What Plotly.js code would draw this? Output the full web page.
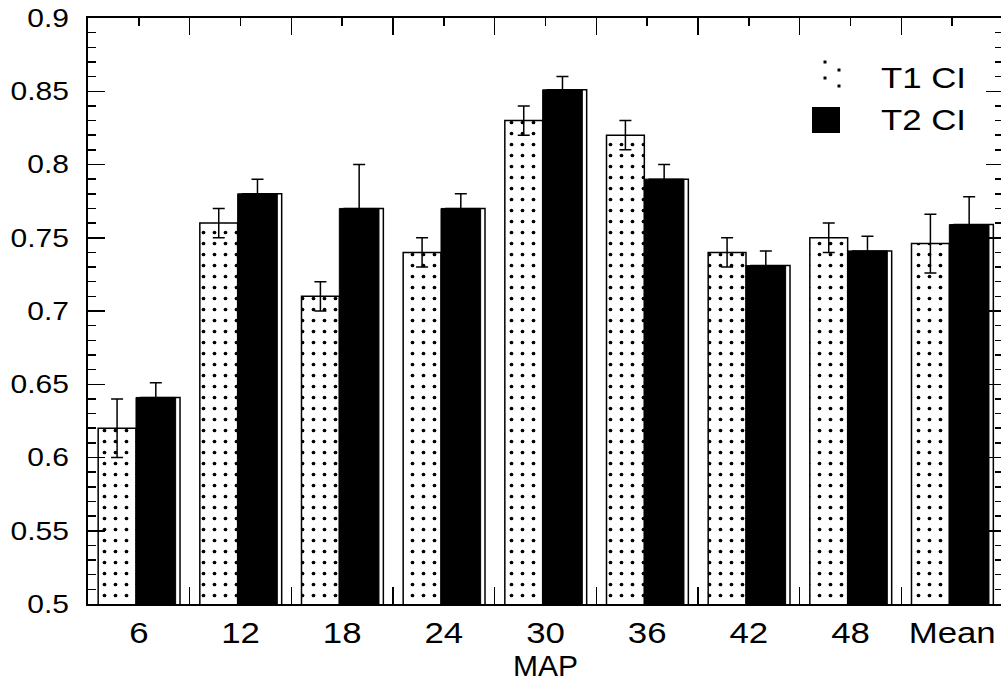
<!DOCTYPE html>
<html><head><meta charset="utf-8">
<script src="https://cdn.plot.ly/plotly-3.0.1.min.js"></script>
<style>html,body{margin:0;padding:0;overflow:hidden;background:#fff}#chart{width:1005px;height:693px}</style>
</head><body><div id="chart"></div>
<script>
const categories = ['6', '12', '18', '24', '30', '36', '42', '48', 'Mean'];
const t1Values = [0.62, 0.76, 0.71, 0.74, 0.83, 0.82, 0.74, 0.75, 0.746];
const t1Err = [0.02, 0.01, 0.01, 0.01, 0.01, 0.01, 0.01, 0.01, 0.02];
const t2Values = [0.641, 0.78, 0.77, 0.77, 0.851, 0.79, 0.731, 0.741, 0.759];
const t2Err = [0.01, 0.01, 0.03, 0.01, 0.009, 0.01, 0.01, 0.01, 0.019];
const legendLabels = ['T1 CI', 'T2 CI'];

const FONT = 'Liberation Sans, Arial, sans-serif';
const W = 1005, H = 693, L = 88, R = 2, T = 18, B = 89;
const pw = W - L - R, ph = H - T - B;
const px = v => (v - L) / pw;
const py = v => (H - B - v) / ph;

const traces = [
  {type: 'bar', name: legendLabels[0], x: categories, y: t1Values, offset: -0.4, width: 0.372,
   marker: {color: '#fff', line: {color: '#000', width: 1.5},
            pattern: {shape: '.', fgcolor: '#000', bgcolor: '#fff', size: 11, solidity: 0.09}},
   error_y: {type: 'data', array: t1Err, visible: true, color: '#000', thickness: 1.5, width: 6},
   showlegend: false},
  {type: 'bar', name: legendLabels[1] + ' outline', x: categories, y: t2Values, offset: 0.02, width: 0.385,
   marker: {color: 'rgba(0,0,0,0)', line: {color: '#000', width: 1.5}}, showlegend: false, hoverinfo: 'skip'},
  {type: 'bar', name: legendLabels[1], x: categories, y: t2Values, offset: -0.028, width: 0.39,
   marker: {color: '#000', line: {color: '#000', width: 1}},
   error_y: {type: 'data', array: t2Err, visible: true, color: '#000', thickness: 1.5, width: 6},
   showlegend: false},
  {type: 'scatter', x: [null], y: [null], xaxis: 'x2', yaxis: 'y', showlegend: false, hoverinfo: 'skip'}
];

const shapes = [
  {type: 'rect', xref: 'paper', yref: 'paper', x0: px(812), x1: px(840), y0: py(133), y1: py(107),
   fillcolor: '#000', line: {width: 0}}
];
[[825, 62], [839, 70], [825, 78], [839, 86]].forEach(([x, y]) => {
  shapes.push({type: 'rect', xref: 'paper', yref: 'paper', x0: px(x - 1.5), x1: px(x + 1.5),
               y0: py(y + 1.5), y1: py(y - 1.5), fillcolor: '#000', line: {width: 0}});
});

const layout = {
  width: W, height: H,
  margin: {l: L, r: R, t: T, b: B},
  paper_bgcolor: '#fff', plot_bgcolor: '#fff',
  barmode: 'overlay',
  showlegend: false,
  font: {family: FONT, color: '#000'},
  xaxis: {type: 'category', range: [-0.5, 8.5], showline: true, mirror: true, linecolor: '#000', linewidth: 2,
          ticks: '', showgrid: false, zeroline: false, tickfont: {size: 29, family: FONT},
          ticklabelstandoff: 2,
          title: {text: 'MAP', font: {size: 30, family: FONT}, standoff: 6}},
  xaxis2: {overlaying: 'x', anchor: 'y', side: 'bottom', range: [0, 9], tickmode: 'linear', tick0: 0, dtick: 1,
           ticks: 'inside', ticklen: 17, tickwidth: 1.5, tickcolor: '#000', showticklabels: false,
           showgrid: false, zeroline: false, showline: false, mirror: 'ticks',
           minor: {tickmode: 'linear', tick0: 0, dtick: 0.5, ticks: 'inside', ticklen: 8, tickwidth: 1.5, tickcolor: '#000', showgrid: false}},
  yaxis: {range: [0.5, 0.9], tickmode: 'linear', tick0: 0.5, dtick: 0.05, ticks: 'inside', ticklen: 17,
          tickwidth: 1.5, tickcolor: '#000', showline: true, linecolor: '#000', linewidth: 2, mirror: 'ticks',
          showgrid: false, zeroline: false, tickfont: {size: 25, family: FONT}, ticklabelstandoff: 12,
          minor: {tickmode: 'linear', tick0: 0.5, dtick: 0.01, ticks: 'inside', ticklen: 8, tickwidth: 1.5, tickcolor: '#000', showgrid: false}},
  shapes: shapes,
  annotations: [
    {xref: 'paper', yref: 'paper', x: px(886), y: py(78), xanchor: 'left', yanchor: 'middle', showarrow: false,
     text: legendLabels[0], font: {size: 29, family: FONT}},
    {xref: 'paper', yref: 'paper', x: px(886), y: py(120), xanchor: 'left', yanchor: 'middle', showarrow: false,
     text: legendLabels[1], font: {size: 29, family: FONT}}
  ]
};

Plotly.newPlot('chart', traces, layout, {staticPlot: true, displayModeBar: false}).then(gd => {
  // the reference lettering is slightly wider than Arial; widen glyphs horizontally
  const STRETCH = 1.2;
  gd.querySelectorAll('.xtick text, .ytick text, .annotation-text').forEach(t => {
    const len = t.getComputedTextLength();
    if (len > 0) {
      t.setAttribute('textLength', (len * STRETCH).toFixed(2));
      t.setAttribute('lengthAdjust', 'spacingAndGlyphs');
    }
  });
});
</script>
</body></html>
